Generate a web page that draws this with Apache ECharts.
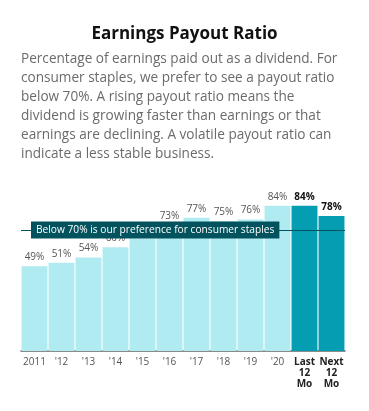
<!DOCTYPE html>
<html><head><meta charset="utf-8">
<script src="https://cdn.jsdelivr.net/npm/echarts@6/dist/echarts.min.js"></script>
<style>html,body{margin:0;padding:0;background:#fff}#c{width:369px;height:411px}</style>
</head><body><div id="c"></div>
<script>
const categories = ['2011', "'12", "'13", "'14", "'15", "'16", "'17", "'18", "'19", "'20", 'Last\n12\nMo', 'Next\n12\nMo'];
const payoutValues = [49, 51, 54, 60, 65, 73, 77, 75, 76, 84, 84, 78];
const highlighted = [false, false, false, false, false, false, false, false, false, false, true, true];
const thresholdValue = 70;
const titleText = 'Earnings Payout Ratio';
const descriptionLines = [
  'Percentage of earnings paid out as a dividend. For',
  'consumer staples, we prefer to see a payout ratio',
  'below 70%. A rising payout ratio means the',
  'dividend is growing faster than earnings or that',
  'earnings are declining. A volatile payout ratio can',
  'indicate a less stable business.'
];
const thresholdLabel = 'Below 70% is our preference for consumer staples';

const FONT = '"Open Sans", sans-serif';
const chart = echarts.init(document.getElementById('c'));
chart.setOption({
  animation: false,
  title: [{
    text: titleText,
    left: 'center',
    top: 21,
    textStyle: { fontFamily: FONT, fontWeight: 'bold', fontSize: 17, color: '#111' }
  }, {
    text: descriptionLines.join('\n'),
    left: 16,
    top: 45,
    textStyle: { fontFamily: FONT, fontWeight: 'normal', fontSize: 13.6, color: '#6b6b6b', lineHeight: 19 }
  }],
  grid: { left: 21, right: 24, top: 178, bottom: 60 },
  xAxis: {
    type: 'category',
    data: categories,
    axisLine: { lineStyle: { color: '#666', width: 1.5 } },
    axisTick: { alignWithLabel: true, lineStyle: { color: '#666' }, length: 5 },
    axisLabel: {
      interval: 0, margin: 6,
      fontFamily: FONT, fontSize: 10, color: '#555', lineHeight: 11,
      formatter: (v, i) => highlighted[i] ? '{b|' + v.split('\n').join('}\n{b|') + '}' : v,
      rich: { b: { fontFamily: FONT, fontSize: 10, fontWeight: 'bold', color: '#222', lineHeight: 11 } }
    }
  },
  yAxis: { type: 'value', min: 0, max: 100, show: false, splitLine: { show: false } },
  series: [{
    type: 'bar',
    barWidth: '96%',
    data: payoutValues.map((v, i) => ({
      value: v,
      itemStyle: { color: highlighted[i] ? '#049db1' : '#b0ebf2' },
      label: highlighted[i] ? { fontWeight: 'bold', color: '#111' } : {}
    })),
    label: {
      show: true, position: 'top', distance: 4,
      fontFamily: FONT, fontSize: 10, color: '#555',
      formatter: p => p.value + '%'
    },
    markLine: {
      silent: true, symbol: 'none',
      lineStyle: { color: '#03535e', type: 'solid', width: 1 },
      data: [{ yAxis: thresholdValue }],
      label: {
        show: true, position: 'insideStart', distance: 10,
        formatter: thresholdLabel,
        backgroundColor: '#03535e', color: '#fff',
        fontFamily: FONT, fontSize: 10.2, padding: [4, 5, 3, 5]
      }
    }
  }]
});
</script></body></html>
